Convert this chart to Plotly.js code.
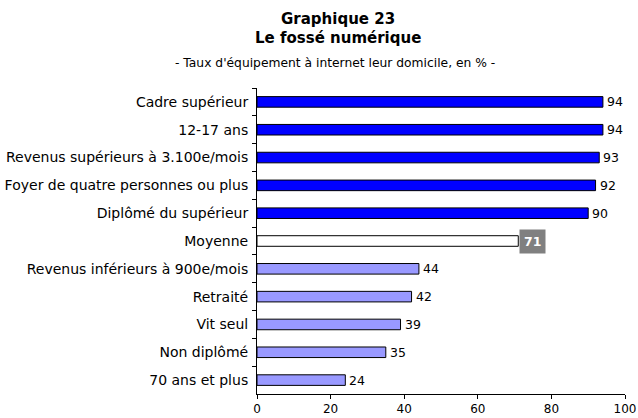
<!DOCTYPE html>
<html><head><meta charset="utf-8">
<script src="https://cdn.plot.ly/plotly-3.0.1.min.js"></script>
<style>body{margin:0;background:#fff}#c{width:638px;height:418px}</style>
</head><body><div id="c"></div>
<script>
const categories = ["Cadre supérieur","12-17 ans","Revenus supérieurs à 3.100e/mois","Foyer de quatre personnes ou plus","Diplômé du supérieur","Moyenne","Revenus inférieurs à 900e/mois","Retraité","Vit seul","Non diplômé","70 ans et plus"];
const values = [94,94,93,92,90,71,44,42,39,35,24];
const groups = ["high","high","high","high","high","avg","low","low","low","low","low"];
const xTicks = [0,20,40,60,80,100];
const titleLines = ["Graphique 23","Le fossé numérique"];
const subtitle = "- Taux d'équipement à internet leur domicile, en % -";

const colorMap = {high:"#0000FF", avg:"#FFFFFF", low:"#9999FF"};
const font = "DejaVu Sans, Verdana, sans-serif";

const trace = {
  type:"bar", orientation:"h", y:categories, x:values,
  marker:{color:groups.map(g=>colorMap[g]), line:{color:"#000", width:1}},
  width:0.38, hoverinfo:"none"
};

const annotations = values.map((v,i)=>{
  const avg = groups[i]==="avg";
  return {
    x:v, y:categories[i], xref:"x", yref:"y", text: avg ? "<b>"+v+"</b>" : String(v),
    showarrow:false, xanchor:"left", yanchor:"middle", xshift: avg?1:3,
    font:{family:font, size:12.5, color: avg?"#fff":"#000"},
    bgcolor: avg?"#808080":"rgba(0,0,0,0)", borderpad: avg?4:0
  };
});
annotations.push({
  text:"<b>"+titleLines[0]+"</b>", xref:"paper", yref:"paper", x:0.22, y:1, yshift:69,
  showarrow:false, xanchor:"center", yanchor:"middle", font:{family:font, size:15, color:"#000"}
});
annotations.push({
  text:"<b>"+titleLines[1]+"</b>", xref:"paper", yref:"paper", x:0.22, y:1, yshift:50,
  showarrow:false, xanchor:"center", yanchor:"middle", font:{family:font, size:15, color:"#000"}
});
annotations.push({
  text:subtitle,
  xref:"paper", yref:"paper", x:0.212, y:1, yshift:25, showarrow:false,
  xanchor:"center", yanchor:"middle", font:{family:font, size:12.3, color:"#000"}
});

const layout = {
  width:638, height:418,
  margin:{l:257, r:13, t:88, b:24},
  paper_bgcolor:"#fff", plot_bgcolor:"#fff",
  showlegend:false,
  xaxis:{range:[0,100], tickvals:xTicks, ticks:"outside", ticklen:4, tickcolor:"#000",
         showline:true, linecolor:"#000", linewidth:1, showgrid:false, zeroline:false,
         tickfont:{family:font, size:12, color:"#000"}, fixedrange:true},
  yaxis:{autorange:"reversed", ticks:"outside", tickson:"boundaries", ticklen:4, tickcolor:"#000",
         showline:true, linecolor:"#000", linewidth:1, showgrid:false,
         tickfont:{family:font, size:14, color:"#000"}, ticklabelstandoff:5, fixedrange:true},
  annotations: annotations
};
Plotly.newPlot("c",[trace],layout,{displayModeBar:false, staticPlot:true});
</script></body></html>
